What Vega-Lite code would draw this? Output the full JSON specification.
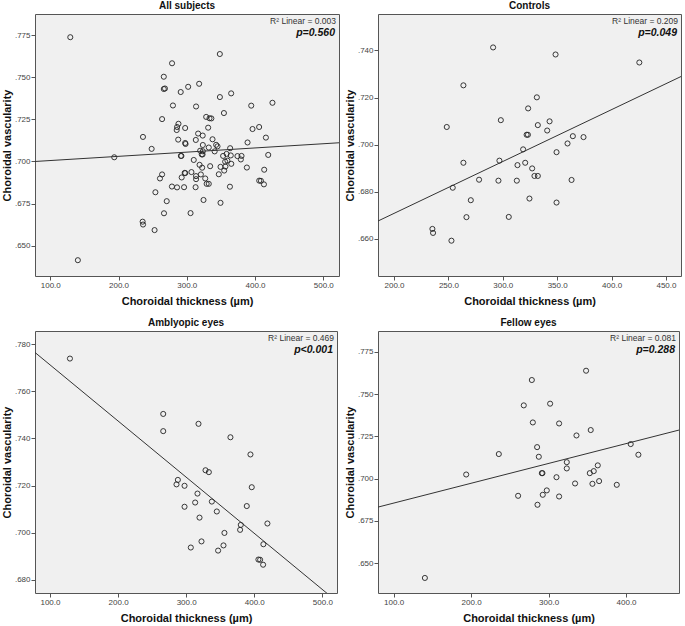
{
  "$schema": "https://vega.github.io/schema/vega-lite/v6.json",
  "padding": {"left": 0, "top": 0, "right": 0, "bottom": 0},
  "background": "white",
  "datasets": {
    "pts": [
      {"group": "Controls", "t": 291.1, "v": 0.7413},
      {"group": "Controls", "t": 348.5, "v": 0.7383},
      {"group": "Controls", "t": 425.5, "v": 0.7349},
      {"group": "Controls", "t": 263.8, "v": 0.7252},
      {"group": "Controls", "t": 331.3, "v": 0.7201},
      {"group": "Controls", "t": 323.3, "v": 0.7154},
      {"group": "Controls", "t": 248.5, "v": 0.7075},
      {"group": "Controls", "t": 298.2, "v": 0.7104},
      {"group": "Controls", "t": 343.0, "v": 0.7099},
      {"group": "Controls", "t": 332.2, "v": 0.7083},
      {"group": "Controls", "t": 340.8, "v": 0.7060},
      {"group": "Controls", "t": 321.9, "v": 0.7042},
      {"group": "Controls", "t": 323.1, "v": 0.7042},
      {"group": "Controls", "t": 364.4, "v": 0.7036},
      {"group": "Controls", "t": 374.2, "v": 0.7032},
      {"group": "Controls", "t": 359.5, "v": 0.7005},
      {"group": "Controls", "t": 318.7, "v": 0.6980},
      {"group": "Controls", "t": 349.4, "v": 0.6968},
      {"group": "Controls", "t": 263.8, "v": 0.6923},
      {"group": "Controls", "t": 296.9, "v": 0.6932},
      {"group": "Controls", "t": 320.6, "v": 0.6923},
      {"group": "Controls", "t": 313.5, "v": 0.6913},
      {"group": "Controls", "t": 327.0, "v": 0.6899},
      {"group": "Controls", "t": 329.1, "v": 0.6867},
      {"group": "Controls", "t": 332.2, "v": 0.6867},
      {"group": "Controls", "t": 254.0, "v": 0.6817},
      {"group": "Controls", "t": 278.2, "v": 0.6851},
      {"group": "Controls", "t": 296.0, "v": 0.6847},
      {"group": "Controls", "t": 312.9, "v": 0.6847},
      {"group": "Controls", "t": 363.2, "v": 0.6850},
      {"group": "Controls", "t": 324.5, "v": 0.6771},
      {"group": "Controls", "t": 349.4, "v": 0.6754},
      {"group": "Controls", "t": 270.6, "v": 0.6764},
      {"group": "Controls", "t": 266.6, "v": 0.6692},
      {"group": "Controls", "t": 305.5, "v": 0.6693},
      {"group": "Controls", "t": 235.3, "v": 0.6642},
      {"group": "Controls", "t": 235.9, "v": 0.6625},
      {"group": "Controls", "t": 252.8, "v": 0.6592},
      {"group": "Amblyopic", "t": 129.3, "v": 0.7739},
      {"group": "Amblyopic", "t": 266.3, "v": 0.7504},
      {"group": "Amblyopic", "t": 266.3, "v": 0.7431},
      {"group": "Amblyopic", "t": 318.1, "v": 0.7462},
      {"group": "Amblyopic", "t": 365.0, "v": 0.7405},
      {"group": "Amblyopic", "t": 394.4, "v": 0.7332},
      {"group": "Amblyopic", "t": 328.4, "v": 0.7265},
      {"group": "Amblyopic", "t": 333.3, "v": 0.7257},
      {"group": "Amblyopic", "t": 287.8, "v": 0.7224},
      {"group": "Amblyopic", "t": 285.8, "v": 0.7205},
      {"group": "Amblyopic", "t": 297.6, "v": 0.7199},
      {"group": "Amblyopic", "t": 396.3, "v": 0.7193},
      {"group": "Amblyopic", "t": 316.6, "v": 0.7166},
      {"group": "Amblyopic", "t": 313.2, "v": 0.7128},
      {"group": "Amblyopic", "t": 337.7, "v": 0.7132},
      {"group": "Amblyopic", "t": 297.6, "v": 0.7110},
      {"group": "Amblyopic", "t": 345.0, "v": 0.7090},
      {"group": "Amblyopic", "t": 389.0, "v": 0.7113},
      {"group": "Amblyopic", "t": 319.6, "v": 0.7064},
      {"group": "Amblyopic", "t": 380.2, "v": 0.7033},
      {"group": "Amblyopic", "t": 379.2, "v": 0.7012},
      {"group": "Amblyopic", "t": 419.3, "v": 0.7039},
      {"group": "Amblyopic", "t": 356.2, "v": 0.6999},
      {"group": "Amblyopic", "t": 306.8, "v": 0.6937},
      {"group": "Amblyopic", "t": 322.5, "v": 0.6963},
      {"group": "Amblyopic", "t": 346.9, "v": 0.6924},
      {"group": "Amblyopic", "t": 354.8, "v": 0.6946},
      {"group": "Amblyopic", "t": 413.4, "v": 0.6951},
      {"group": "Amblyopic", "t": 406.1, "v": 0.6886},
      {"group": "Amblyopic", "t": 408.6, "v": 0.6885},
      {"group": "Amblyopic", "t": 413.0, "v": 0.6864},
      {"group": "Fellow", "t": 348.4, "v": 0.7639},
      {"group": "Fellow", "t": 278.4, "v": 0.7584},
      {"group": "Fellow", "t": 302.0, "v": 0.7444},
      {"group": "Fellow", "t": 268.0, "v": 0.7434},
      {"group": "Fellow", "t": 279.7, "v": 0.7333},
      {"group": "Fellow", "t": 313.6, "v": 0.7327},
      {"group": "Fellow", "t": 354.4, "v": 0.7288},
      {"group": "Fellow", "t": 336.0, "v": 0.7256},
      {"group": "Fellow", "t": 406.0, "v": 0.7205},
      {"group": "Fellow", "t": 235.8, "v": 0.7146},
      {"group": "Fellow", "t": 415.9, "v": 0.7142},
      {"group": "Fellow", "t": 285.2, "v": 0.7187},
      {"group": "Fellow", "t": 287.4, "v": 0.7130},
      {"group": "Fellow", "t": 323.5, "v": 0.7098},
      {"group": "Fellow", "t": 323.5, "v": 0.7061},
      {"group": "Fellow", "t": 363.5, "v": 0.7079},
      {"group": "Fellow", "t": 291.3, "v": 0.7033},
      {"group": "Fellow", "t": 292.1, "v": 0.7033},
      {"group": "Fellow", "t": 353.2, "v": 0.7033},
      {"group": "Fellow", "t": 358.3, "v": 0.7045},
      {"group": "Fellow", "t": 193.7, "v": 0.7025},
      {"group": "Fellow", "t": 310.2, "v": 0.7009},
      {"group": "Fellow", "t": 334.2, "v": 0.6972},
      {"group": "Fellow", "t": 356.6, "v": 0.6970},
      {"group": "Fellow", "t": 365.2, "v": 0.6986},
      {"group": "Fellow", "t": 388.0, "v": 0.6964},
      {"group": "Fellow", "t": 297.7, "v": 0.6931},
      {"group": "Fellow", "t": 292.5, "v": 0.6905},
      {"group": "Fellow", "t": 260.7, "v": 0.6899},
      {"group": "Fellow", "t": 313.6, "v": 0.6895},
      {"group": "Fellow", "t": 285.7, "v": 0.6846},
      {"group": "Fellow", "t": 140.4, "v": 0.6413}
    ],
    "stats": [
      {"panel": "All", "r2": "R² Linear = 0.003", "p": "p=0.560"},
      {"panel": "Controls", "r2": "R² Linear = 0.209", "p": "p=0.049"},
      {"panel": "Amblyopic", "r2": "R² Linear = 0.469", "p": "p<0.001"},
      {"panel": "Fellow", "r2": "R² Linear = 0.081", "p": "p=0.288"}
    ]
  },
  "columns": 2,
  "spacing": {"column": 3, "row": 10},
  "concat": [
    {
      "title": "All subjects",
      "width": 304, "height": 262,
      "layer": [
        {
          "data": {"name": "pts"},
          "mark": {"type": "point", "shape": "circle", "filled": false, "stroke": "#222", "strokeWidth": 0.9, "size": 26, "opacity": 1},
          "encoding": {
            "x": {"field": "t", "type": "quantitative", "scale": {"domain": [77.6, 523], "nice": false, "zero": false},
                  "axis": {"title": "Choroidal thickness (µm)", "values": [100, 200, 300, 400, 500], "format": ".1f"}},
            "y": {"field": "v", "type": "quantitative", "scale": {"domain": [0.6319, 0.7877], "nice": false, "zero": false},
                  "axis": {"title": "Choroidal vascularity", "values": [0.65, 0.675, 0.7, 0.725, 0.75, 0.775], "labelExpr": "replace(format(datum.value, '.3f'), '0.', '.')"}}
          }
        },
        {
          "data": {"name": "pts"},
          "transform": [{"regression": "v", "on": "t", "extent": [77.6, 523]}],
          "mark": {"type": "line", "color": "#333", "strokeWidth": 1, "clip": true},
          "encoding": {"x": {"field": "t", "type": "quantitative"}, "y": {"field": "v", "type": "quantitative"}}
        },
        {
          "data": {"name": "stats"},
          "transform": [{"filter": "datum.panel == 'All'"}],
          "mark": {"type": "text", "align": "right", "baseline": "top", "fontSize": 8.5, "color": "#333", "dx": -3, "dy": 3},
          "encoding": {"x": {"datum": 523, "type": "quantitative"}, "y": {"datum": 0.7877, "type": "quantitative"}, "text": {"field": "r2"}}
        },
        {
          "data": {"name": "stats"},
          "transform": [{"filter": "datum.panel == 'All'"}],
          "mark": {"type": "text", "align": "right", "baseline": "top", "fontSize": 10.5, "fontWeight": "bold", "fontStyle": "italic", "color": "#111", "dx": -4, "dy": 14},
          "encoding": {"x": {"datum": 523, "type": "quantitative"}, "y": {"datum": 0.7877, "type": "quantitative"}, "text": {"field": "p"}}
        }
      ]
    },
    {
      "title": "Controls",
      "width": 303, "height": 262,
      "layer": [
        {
          "data": {"name": "pts"},
          "transform": [{"filter": "datum.group == 'Controls'"}],
          "mark": {"type": "point", "shape": "circle", "filled": false, "stroke": "#222", "strokeWidth": 0.9, "size": 26, "opacity": 1},
          "encoding": {
            "x": {"field": "t", "type": "quantitative", "scale": {"domain": [185.3, 463.8], "nice": false, "zero": false},
                  "axis": {"title": "Choroidal thickness (µm)", "values": [200, 250, 300, 350, 400, 450], "format": ".1f"}},
            "y": {"field": "v", "type": "quantitative", "scale": {"domain": [0.6442, 0.7555], "nice": false, "zero": false},
                  "axis": {"title": "Choroidal vascularity", "values": [0.66, 0.68, 0.7, 0.72, 0.74], "labelExpr": "replace(format(datum.value, '.3f'), '0.', '.')"}}
          }
        },
        {
          "data": {"name": "pts"},
          "transform": [{"filter": "datum.group == 'Controls'"}, {"regression": "v", "on": "t", "extent": [185.3, 463.8]}],
          "mark": {"type": "line", "color": "#333", "strokeWidth": 1, "clip": true},
          "encoding": {"x": {"field": "t", "type": "quantitative"}, "y": {"field": "v", "type": "quantitative"}}
        },
        {
          "data": {"name": "stats"},
          "transform": [{"filter": "datum.panel == 'Controls'"}],
          "mark": {"type": "text", "align": "right", "baseline": "top", "fontSize": 8.5, "color": "#333", "dx": -3, "dy": 3},
          "encoding": {"x": {"datum": 463.8, "type": "quantitative"}, "y": {"datum": 0.7555, "type": "quantitative"}, "text": {"field": "r2"}}
        },
        {
          "data": {"name": "stats"},
          "transform": [{"filter": "datum.panel == 'Controls'"}],
          "mark": {"type": "text", "align": "right", "baseline": "top", "fontSize": 10.5, "fontWeight": "bold", "fontStyle": "italic", "color": "#111", "dx": -4, "dy": 14},
          "encoding": {"x": {"datum": 463.8, "type": "quantitative"}, "y": {"datum": 0.7555, "type": "quantitative"}, "text": {"field": "p"}}
        }
      ]
    },
    {
      "title": "Amblyopic eyes",
      "width": 302, "height": 262,
      "layer": [
        {
          "data": {"name": "pts"},
          "transform": [{"filter": "datum.group == 'Amblyopic'"}],
          "mark": {"type": "point", "shape": "circle", "filled": false, "stroke": "#222", "strokeWidth": 0.9, "size": 26, "opacity": 1},
          "encoding": {
            "x": {"field": "t", "type": "quantitative", "scale": {"domain": [78, 521.5], "nice": false, "zero": false},
                  "axis": {"title": "Choroidal thickness (µm)", "values": [100, 200, 300, 400, 500], "format": ".1f"}},
            "y": {"field": "v", "type": "quantitative", "scale": {"domain": [0.6744, 0.7856], "nice": false, "zero": false},
                  "axis": {"title": "Choroidal vascularity", "values": [0.68, 0.7, 0.72, 0.74, 0.76, 0.78], "labelExpr": "replace(format(datum.value, '.3f'), '0.', '.')"}}
          }
        },
        {
          "data": {"name": "pts"},
          "transform": [{"filter": "datum.group == 'Amblyopic'"}, {"regression": "v", "on": "t", "extent": [78, 521.5]}],
          "mark": {"type": "line", "color": "#333", "strokeWidth": 1, "clip": true},
          "encoding": {"x": {"field": "t", "type": "quantitative"}, "y": {"field": "v", "type": "quantitative"}}
        },
        {
          "data": {"name": "stats"},
          "transform": [{"filter": "datum.panel == 'Amblyopic'"}],
          "mark": {"type": "text", "align": "right", "baseline": "top", "fontSize": 8.5, "color": "#333", "dx": -3, "dy": 3},
          "encoding": {"x": {"datum": 521.5, "type": "quantitative"}, "y": {"datum": 0.7856, "type": "quantitative"}, "text": {"field": "r2"}}
        },
        {
          "data": {"name": "stats"},
          "transform": [{"filter": "datum.panel == 'Amblyopic'"}],
          "mark": {"type": "text", "align": "right", "baseline": "top", "fontSize": 10.5, "fontWeight": "bold", "fontStyle": "italic", "color": "#111", "dx": -4, "dy": 14},
          "encoding": {"x": {"datum": 521.5, "type": "quantitative"}, "y": {"datum": 0.7856, "type": "quantitative"}, "text": {"field": "p"}}
        }
      ]
    },
    {
      "title": "Fellow eyes",
      "width": 301, "height": 262,
      "layer": [
        {
          "data": {"name": "pts"},
          "transform": [{"filter": "datum.group == 'Fellow'"}],
          "mark": {"type": "point", "shape": "circle", "filled": false, "stroke": "#222", "strokeWidth": 0.9, "size": 26, "opacity": 1},
          "encoding": {
            "x": {"field": "t", "type": "quantitative", "scale": {"domain": [79.9, 468.3], "nice": false, "zero": false},
                  "axis": {"title": "Choroidal thickness (µm)", "values": [100, 200, 300, 400], "format": ".1f"}},
            "y": {"field": "v", "type": "quantitative", "scale": {"domain": [0.6324, 0.7874], "nice": false, "zero": false},
                  "axis": {"title": "Choroidal vascularity", "values": [0.65, 0.675, 0.7, 0.725, 0.75, 0.775], "labelExpr": "replace(format(datum.value, '.3f'), '0.', '.')"}}
          }
        },
        {
          "data": {"name": "pts"},
          "transform": [{"filter": "datum.group == 'Fellow'"}, {"regression": "v", "on": "t", "extent": [79.9, 468.3]}],
          "mark": {"type": "line", "color": "#333", "strokeWidth": 1, "clip": true},
          "encoding": {"x": {"field": "t", "type": "quantitative"}, "y": {"field": "v", "type": "quantitative"}}
        },
        {
          "data": {"name": "stats"},
          "transform": [{"filter": "datum.panel == 'Fellow'"}],
          "mark": {"type": "text", "align": "right", "baseline": "top", "fontSize": 8.5, "color": "#333", "dx": -3, "dy": 3},
          "encoding": {"x": {"datum": 468.3, "type": "quantitative"}, "y": {"datum": 0.7874, "type": "quantitative"}, "text": {"field": "r2"}}
        },
        {
          "data": {"name": "stats"},
          "transform": [{"filter": "datum.panel == 'Fellow'"}],
          "mark": {"type": "text", "align": "right", "baseline": "top", "fontSize": 10.5, "fontWeight": "bold", "fontStyle": "italic", "color": "#111", "dx": -4, "dy": 14},
          "encoding": {"x": {"datum": 468.3, "type": "quantitative"}, "y": {"datum": 0.7874, "type": "quantitative"}, "text": {"field": "p"}}
        }
      ]
    }
  ],
  "config": {
    "font": "Liberation Sans",
    "view": {"fill": "#f0f0f0", "stroke": "#555", "strokeWidth": 1},
    "title": {"fontSize": 10, "fontWeight": "bold", "color": "#111", "offset": 3, "anchor": "middle", "font": "Liberation Sans"},
    "axis": {
      "grid": false, "domain": false,
      "tickColor": "#555", "tickSize": 4, "tickWidth": 1,
      "labelFont": "Liberation Sans", "labelFontSize": 8, "labelColor": "#444", "labelPadding": 1,
      "titleFont": "Liberation Sans", "titleFontSize": 11, "titleFontWeight": "bold", "titleColor": "#111"
    },
    "axisX": {"titlePadding": 6},
    "axisY": {"titlePadding": 2}
  }
}
